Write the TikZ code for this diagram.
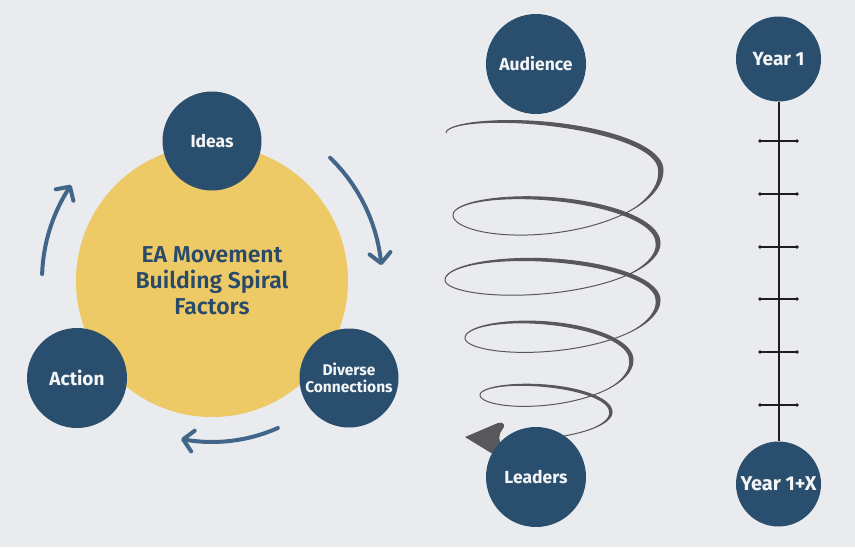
\documentclass[tikz,border=0pt]{standalone}
\usepackage{fontspec}
\setmainfont{Fira Sans}
\newfontfamily\semib{Fira Sans SemiBold}
\usetikzlibrary{arrows.meta}
\definecolor{bg}{HTML}{E9EBEF}
\definecolor{navy}{HTML}{2A4F6E}
\definecolor{gold}{HTML}{EDCA66}
\definecolor{flow}{HTML}{41668A}
\definecolor{coil}{HTML}{58585A}
\definecolor{ink}{HTML}{1E1E1E}
\definecolor{label}{HTML}{F4F5F7}
\definecolor{titletext}{HTML}{2A4A6A}
\tikzset{
  factor/.style={circle, fill=navy, inner sep=0pt, minimum size=#1, text=label,
    font=\bfseries\fontsize{17.5}{19}\selectfont, align=center},
  factor/.default=99pt,
  flowarrow/.style={draw=flow, line width=4pt, line cap=round,
    -{Straight Barb[length=10pt,width=21pt,line cap=round,line join=round]}},
  coilline/.style={draw=coil, line width=1pt},
  tickmark/.style={draw=ink, line width=1.4pt},
  axisline/.style={draw=ink, line width=2pt},
}
\newcommand\coilturn[9]{%
  \draw[coilline] plot[domain=0:180,samples=60,variable=\t]
    ({(#1+#3)/2-(#3-#1)/2*cos(\t)},{#2+(#4-#2)*\t/180-#5*sin(\t)})
    -- plot[domain=180:\frontend,samples=60,variable=\t]
    ({(#3+#6)/2-(#3-#6)/2*cos(\t)},{#4+(#7-#4)*(\t-180)/180-#8*sin(\t)});
  \fill[coil] plot[domain=0:180,samples=60,variable=\t]
    ({(#1+#3)/2-(#3-#1)/2*cos(\t)},{#2+(#4-#2)*\t/180-#5*sin(\t)})
    -- plot[domain=180:228,samples=20,variable=\t]
    ({(#3+#6)/2-(#3-#6)/2*cos(\t)},{#4+(#7-#4)*(\t-180)/180-#8*sin(\t)})
    -- plot[domain=228:180,samples=20,variable=\t]
    ({(#3+#6)/2-((#3-#6)/2-#9*(228-\t)/48)*cos(\t)},{#4+(#7-#4)*(\t-180)/180-(#8-#9*(228-\t)/48)*sin(\t)})
    -- plot[domain=180:0,samples=60,variable=\t]
    ({(#1+#3)/2-((#3-#1)/2-#9*sin(\t/2))*cos(\t)},{#2+(#4-#2)*\t/180-(#5-#9*sin(\t/2))*sin(\t)})
    -- cycle;
}
\begin{document}
\begin{tikzpicture}[x=1pt,y=-1pt]
\fill[bg] (0,0) rectangle (855,547);
\useasboundingbox (0,0) rectangle (855,547);

% ---- left cluster ----
\node[circle, fill=gold, minimum size=272pt, inner sep=0pt, text=titletext,
  font=\semib\fontsize{23}{26}\selectfont, align=center] (core) at (212,281)
  {EA Movement\\Building Spiral\\Factors};
\node[factor] (ideas) at (212,141) {Ideas};
\node[factor=100pt, font=\bfseries\fontsize{19}{21}\selectfont] (action) at (77,378) {Action};
\node[factor, font=\bfseries\fontsize{15.5}{17}\selectfont] (diverse) at (349,378) {Diverse\\Connections};

\draw[flowarrow] plot[domain=46:5,samples=15,variable=\a] ({212+170*cos(\a)},{280-170*sin(\a)});
\draw[flowarrow] plot[domain=-66:-101,samples=15,variable=\a] ({212+162*cos(\a)},{280-162*sin(\a)});
\draw[flowarrow] plot[domain=178:146,samples=15,variable=\a] ({212+170*cos(\a)},{280-170*sin(\a)});

% ---- spiral ----
\def\frontend{360}
\coilturn{446}{133}{663}{170}{28.5}{453}{215}{40}{5}
\coilturn{453}{215}{660}{243}{31}{445}{280}{31.5}{4.5}
\coilturn{445}{280}{660}{300}{31}{465}{338}{31}{4.5}
\coilturn{465}{338}{633}{360}{27}{480}{395}{26.5}{4}
\def\frontend{300}
\coilturn{480}{395}{612}{412}{18.5}{470}{432}{17}{3}
\fill[coil] (465,437) -- (498,423) .. controls (504,421) and (506,426) .. (502,430)
  .. controls (499,434) and (499,438) .. (500,442) -- (496,456) -- cycle;

\node[factor=100pt] (audience) at (536,64) {Audience};
\node[factor=100pt] (leaders) at (536,477) {Leaders};

% ---- timeline ----
\node[factor=85pt, font=\bfseries\fontsize{19}{21}\selectfont] (year1) at (778.5,59) {Year 1};
\node[factor=85pt, font=\bfseries\fontsize{20}{22}\selectfont] (yearx) at (778.5,484) {Year 1+X};
\draw[axisline] (year1.south) -- (yearx.north);
\foreach \yy in {141,194,247,299,352,405}{
  \coordinate (tl\yy) at (760,\yy);
  \coordinate (tr\yy) at (797,\yy);
  \draw[tickmark] (tl\yy) -- (tr\yy);
  \fill[ink] (tl\yy) circle (1.8);
  \fill[ink] (tr\yy) circle (1.8);
}
\end{tikzpicture}
\end{document}
